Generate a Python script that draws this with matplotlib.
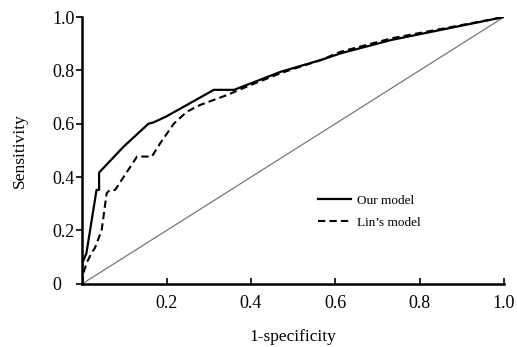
import matplotlib.pyplot as plt

plt.rcParams['font.family'] = ['Liberation Serif', 'DejaVu Serif']

# ROC points
our_fpr = [0.0, 0.0, 0.01, 0.034, 0.04, 0.04, 0.098, 0.157, 0.169, 0.199, 0.312, 0.36, 0.471, 0.566, 0.613, 0.733, 1.0]
our_tpr = [0.0, 0.077, 0.115, 0.352, 0.352, 0.417, 0.514, 0.60, 0.605, 0.627, 0.727, 0.727, 0.795, 0.839, 0.864, 0.914, 1.0]

lin_fpr = [0.0, 0.003, 0.01, 0.022, 0.03, 0.046, 0.058, 0.066, 0.078, 0.13, 0.165, 0.185, 0.217, 0.248, 0.279, 0.344, 0.39, 0.471, 0.566, 0.613, 0.733, 1.0]
lin_tpr = [0.0, 0.04, 0.077, 0.115, 0.134, 0.2, 0.34, 0.352, 0.352, 0.477, 0.477, 0.527, 0.60, 0.645, 0.67, 0.708, 0.739, 0.79, 0.839, 0.87, 0.92, 1.0]

x_ticks = [0.2, 0.4, 0.6, 0.8, 1.0]
x_tick_labels = ['0.2', '0.4', '0.6', '0.8', '1.0']
y_ticks = [0, 0.2, 0.4, 0.6, 0.8, 1.0]
y_tick_labels = ['0', '0.2', '0.4', '0.6', '0.8', '1.0']

fig = plt.figure(figsize=(5.17, 3.47), dpi=100)
ax = fig.add_axes([0.159, 0.182, 0.816, 0.769])

ax.plot([0, 1], [0, 1], color='#777777', linewidth=0.9)
ax.plot(our_fpr, our_tpr, color='black', linewidth=1.6, label='Our model')
ax.plot(lin_fpr, lin_tpr, color='black', linewidth=1.5, linestyle=(0, (3.5, 2)), label='Lin’s model')

ax.set_xlim(0, 1)
ax.set_ylim(0, 1)
ax.set_xticks(x_ticks)
ax.set_xticklabels(x_tick_labels)
ax.set_yticks(y_ticks)
ax.set_yticklabels(y_tick_labels)
ax.tick_params(axis='x', direction='in', length=4, width=1.2, labelsize=13, pad=8)
ax.tick_params(axis='y', direction='out', length=4, width=1.2, labelsize=13, pad=17.5)
for lab in ax.get_yticklabels():
    lab.set_horizontalalignment('left')

for side in ['top', 'right']:
    ax.spines[side].set_visible(False)
for side in ['left', 'bottom']:
    ax.spines[side].set_linewidth(1.8)

ax.set_xlabel('1-specificity', fontsize=12.5, labelpad=12)
ax.set_ylabel('Sensitivity', fontsize=12.5)
ax.yaxis.set_label_coords(-0.128, 0.5)

ax.legend(loc='upper left', bbox_to_anchor=(0.53, 0.38), frameon=False,
          fontsize=9.5, handlelength=2.5, handletextpad=0.5, labelspacing=0.75)

fig.savefig('out.png', dpi=100)
